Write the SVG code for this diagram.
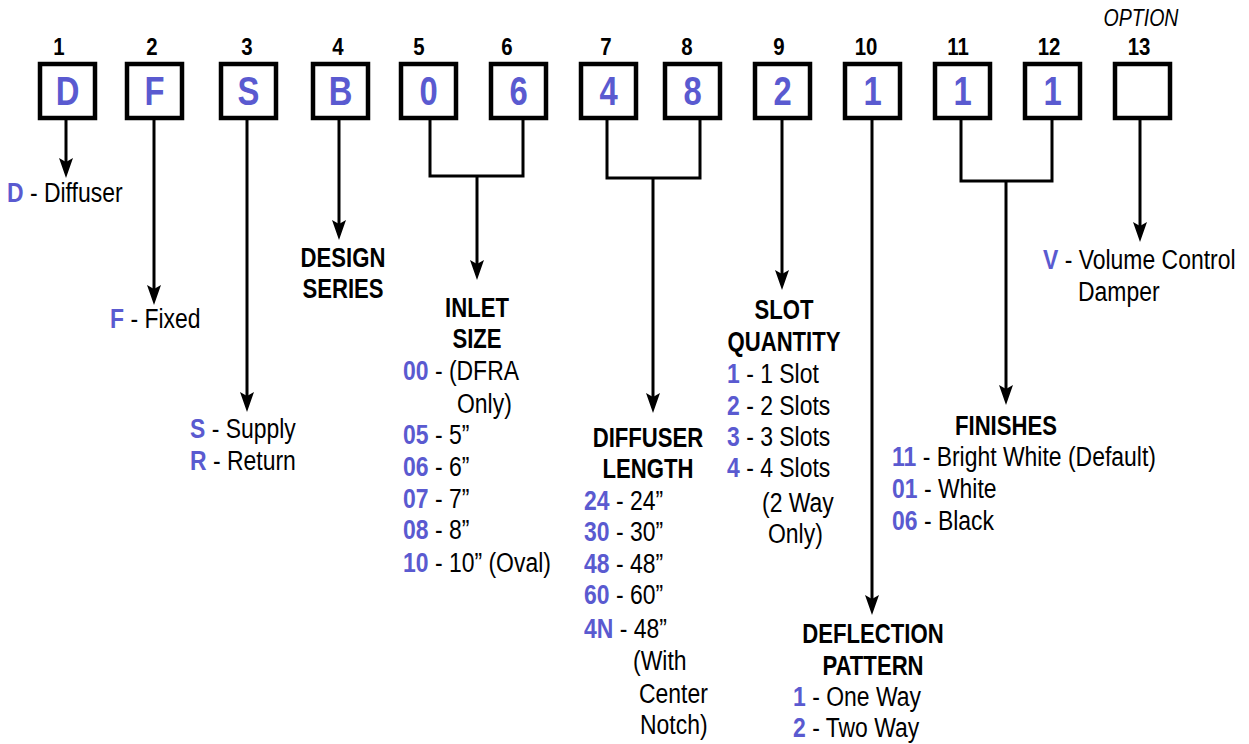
<svg xmlns="http://www.w3.org/2000/svg" width="1249" height="744" viewBox="0 0 1249 744">
<style>
text{font-family:"Liberation Sans",Arial,sans-serif;fill:#000}
.num{font-size:24px;font-weight:bold;text-anchor:middle}
.let{font-size:40px;font-weight:bold;text-anchor:middle;fill:#5a5ad0}
.box{fill:#fff;stroke:#000;stroke-width:4.5}
.hd{font-size:27px;font-weight:bold;text-anchor:middle}
.t{font-size:27px}
.b{font-weight:bold;fill:#5a5ad0}
.opt{font-size:23px;font-style:italic;text-anchor:middle}
.ln{fill:none;stroke:#000;stroke-width:3}
.ar{fill:none;stroke:#000;stroke-width:3;marker-end:url(#arr)}
</style>
<defs>
<marker id="arr" viewBox="0 0 20 14" refX="11" refY="7" markerWidth="20" markerHeight="14" markerUnits="userSpaceOnUse" orient="auto">
<path d="M0,0 L20,7 L0,14 L4,7 Z" fill="#000"/>
</marker>
</defs>
<rect width="1249" height="744" fill="#fff"/>
<g id="connectors">
<path class="ar" d="M66,120 V169"/>
<path class="ar" d="M154,120 V296"/>
<path class="ar" d="M247,120 V403"/>
<path class="ar" d="M339,120 V231"/>
<path class="ln" d="M430,120 V176 H523 V120"/>
<path class="ar" d="M477,176 V271"/>
<path class="ln" d="M607,120 V178 H700 V120"/>
<path class="ar" d="M653,178 V404"/>
<path class="ar" d="M782,120 V281"/>
<path class="ar" d="M872,120 V606"/>
<path class="ln" d="M961,120 V181 H1052 V120"/>
<path class="ar" d="M1006,181 V396"/>
<path class="ar" d="M1140,120 V233"/>
</g>
<g id="pos1"><text class="num" transform="translate(59 55) scale(.85 1)">1</text><rect class="box" x="40" y="64" width="55" height="54"/><text class="let" transform="translate(67.5 105) scale(.82 1)">D</text></g>
<g id="pos2"><text class="num" transform="translate(152 55) scale(.85 1)">2</text><rect class="box" x="127" y="64" width="55" height="54"/><text class="let" transform="translate(154.5 105) scale(.82 1)">F</text></g>
<g id="pos3"><text class="num" transform="translate(247 55) scale(.85 1)">3</text><rect class="box" x="221" y="64" width="55" height="54"/><text class="let" transform="translate(248.5 105) scale(.82 1)">S</text></g>
<g id="pos4"><text class="num" transform="translate(338 55) scale(.85 1)">4</text><rect class="box" x="313" y="64" width="55" height="54"/><text class="let" transform="translate(340.5 105) scale(.82 1)">B</text></g>
<g id="pos5"><text class="num" transform="translate(419 55) scale(.85 1)">5</text><rect class="box" x="401" y="64" width="55" height="54"/><text class="let" transform="translate(428.5 105) scale(.82 1)">0</text></g>
<g id="pos6"><text class="num" transform="translate(507 55) scale(.85 1)">6</text><rect class="box" x="491" y="64" width="55" height="54"/><text class="let" transform="translate(518.5 105) scale(.82 1)">6</text></g>
<g id="pos7"><text class="num" transform="translate(606 55) scale(.85 1)">7</text><rect class="box" x="581" y="64" width="55" height="54"/><text class="let" transform="translate(608.5 105) scale(.82 1)">4</text></g>
<g id="pos8"><text class="num" transform="translate(687 55) scale(.85 1)">8</text><rect class="box" x="665" y="64" width="55" height="54"/><text class="let" transform="translate(692.5 105) scale(.82 1)">8</text></g>
<g id="pos9"><text class="num" transform="translate(779 55) scale(.85 1)">9</text><rect class="box" x="755" y="64" width="55" height="54"/><text class="let" transform="translate(782.5 105) scale(.82 1)">2</text></g>
<g id="pos10"><text class="num" transform="translate(866 55) scale(.85 1)">10</text><rect class="box" x="845" y="64" width="55" height="54"/><text class="let" transform="translate(872.5 105) scale(.82 1)">1</text></g>
<g id="pos11"><text class="num" transform="translate(958 55) scale(.85 1)">11</text><rect class="box" x="935" y="64" width="55" height="54"/><text class="let" transform="translate(962.5 105) scale(.82 1)">1</text></g>
<g id="pos12"><text class="num" transform="translate(1049 55) scale(.85 1)">12</text><rect class="box" x="1025" y="64" width="55" height="54"/><text class="let" transform="translate(1052.5 105) scale(.82 1)">1</text></g>
<g id="pos13"><text class="opt" transform="translate(1141 26) scale(.85 1)">OPTION</text><text class="num" transform="translate(1139 55) scale(.85 1)">13</text><rect class="box" x="1115" y="64" width="55" height="54"/></g>
<g id="diffuser"><text class="t" transform="translate(7 202) scale(.85 1)"><tspan class="b">D</tspan> - Diffuser</text></g>
<g id="fixed"><text class="t" transform="translate(110 328) scale(.85 1)"><tspan class="b">F</tspan> - Fixed</text></g>
<g id="supply">
<text class="t" transform="translate(190 438) scale(.85 1)"><tspan class="b">S</tspan> - Supply</text>
<text class="t" transform="translate(190 470) scale(.85 1)"><tspan class="b">R</tspan> - Return</text>
</g>
<g id="design"><text class="hd" transform="translate(343 267) scale(.82 1)">DESIGN</text><text class="hd" transform="translate(343 298) scale(.82 1)">SERIES</text></g>
<g id="inlet">
<text class="hd" transform="translate(477 317) scale(.82 1)">INLET</text>
<text class="hd" transform="translate(477 348) scale(.82 1)">SIZE</text>
<text class="t" transform="translate(403 380) scale(.85 1)"><tspan class="b">00</tspan> - (DFRA</text>
<text class="t" transform="translate(457 413) scale(.85 1)">Only)</text>
<text class="t" transform="translate(403 444) scale(.85 1)"><tspan class="b">05</tspan> - 5”</text>
<text class="t" transform="translate(403 476) scale(.85 1)"><tspan class="b">06</tspan> - 6”</text>
<text class="t" transform="translate(403 508) scale(.85 1)"><tspan class="b">07</tspan> - 7”</text>
<text class="t" transform="translate(403 539) scale(.85 1)"><tspan class="b">08</tspan> - 8”</text>
<text class="t" transform="translate(403 572) scale(.85 1)"><tspan class="b">10</tspan> - 10” (Oval)</text>
</g>
<g id="length">
<text class="hd" transform="translate(648 447) scale(.82 1)">DIFFUSER</text>
<text class="hd" transform="translate(648 478) scale(.82 1)">LENGTH</text>
<text class="t" transform="translate(584 510) scale(.85 1)"><tspan class="b">24</tspan> - 24”</text>
<text class="t" transform="translate(584 541) scale(.85 1)"><tspan class="b">30</tspan> - 30”</text>
<text class="t" transform="translate(584 573) scale(.85 1)"><tspan class="b">48</tspan> - 48”</text>
<text class="t" transform="translate(584 604) scale(.85 1)"><tspan class="b">60</tspan> - 60”</text>
<text class="t" transform="translate(584 638) scale(.85 1)"><tspan class="b">4N</tspan> - 48”</text>
<text class="t" transform="translate(633 670) scale(.85 1)">(With</text>
<text class="t" transform="translate(639 703) scale(.85 1)">Center</text>
<text class="t" transform="translate(640 734) scale(.85 1)">Notch)</text>
</g>
<g id="slot">
<text class="hd" transform="translate(784 319) scale(.82 1)">SLOT</text>
<text class="hd" transform="translate(784 351) scale(.82 1)">QUANTITY</text>
<text class="t" transform="translate(727 383) scale(.85 1)"><tspan class="b">1</tspan> - 1 Slot</text>
<text class="t" transform="translate(727 415) scale(.85 1)"><tspan class="b">2</tspan> - 2 Slots</text>
<text class="t" transform="translate(727 446) scale(.85 1)"><tspan class="b">3</tspan> - 3 Slots</text>
<text class="t" transform="translate(727 477) scale(.85 1)"><tspan class="b">4</tspan> - 4 Slots</text>
<text class="t" transform="translate(762 512) scale(.85 1)">(2 Way</text>
<text class="t" transform="translate(768 543) scale(.85 1)">Only)</text>
</g>
<g id="deflection">
<text class="hd" transform="translate(873 643) scale(.82 1)">DEFLECTION</text>
<text class="hd" transform="translate(873 675) scale(.82 1)">PATTERN</text>
<text class="t" transform="translate(793 706) scale(.85 1)"><tspan class="b">1</tspan> - One Way</text>
<text class="t" transform="translate(793 737) scale(.85 1)"><tspan class="b">2</tspan> - Two Way</text>
</g>
<g id="finishes">
<text class="hd" transform="translate(1006 435) scale(.82 1)">FINISHES</text>
<text class="t" transform="translate(892 466) scale(.85 1)"><tspan class="b">11</tspan> - Bright White (Default)</text>
<text class="t" transform="translate(892 498) scale(.85 1)"><tspan class="b">01</tspan> - White</text>
<text class="t" transform="translate(892 530) scale(.85 1)"><tspan class="b">06</tspan> - Black</text>
</g>
<g id="option">
<text class="t" transform="translate(1043 269) scale(.85 1)"><tspan class="b">V</tspan> - Volume Control</text>
<text class="t" transform="translate(1078 301) scale(.85 1)">Damper</text>
</g>
</svg>
